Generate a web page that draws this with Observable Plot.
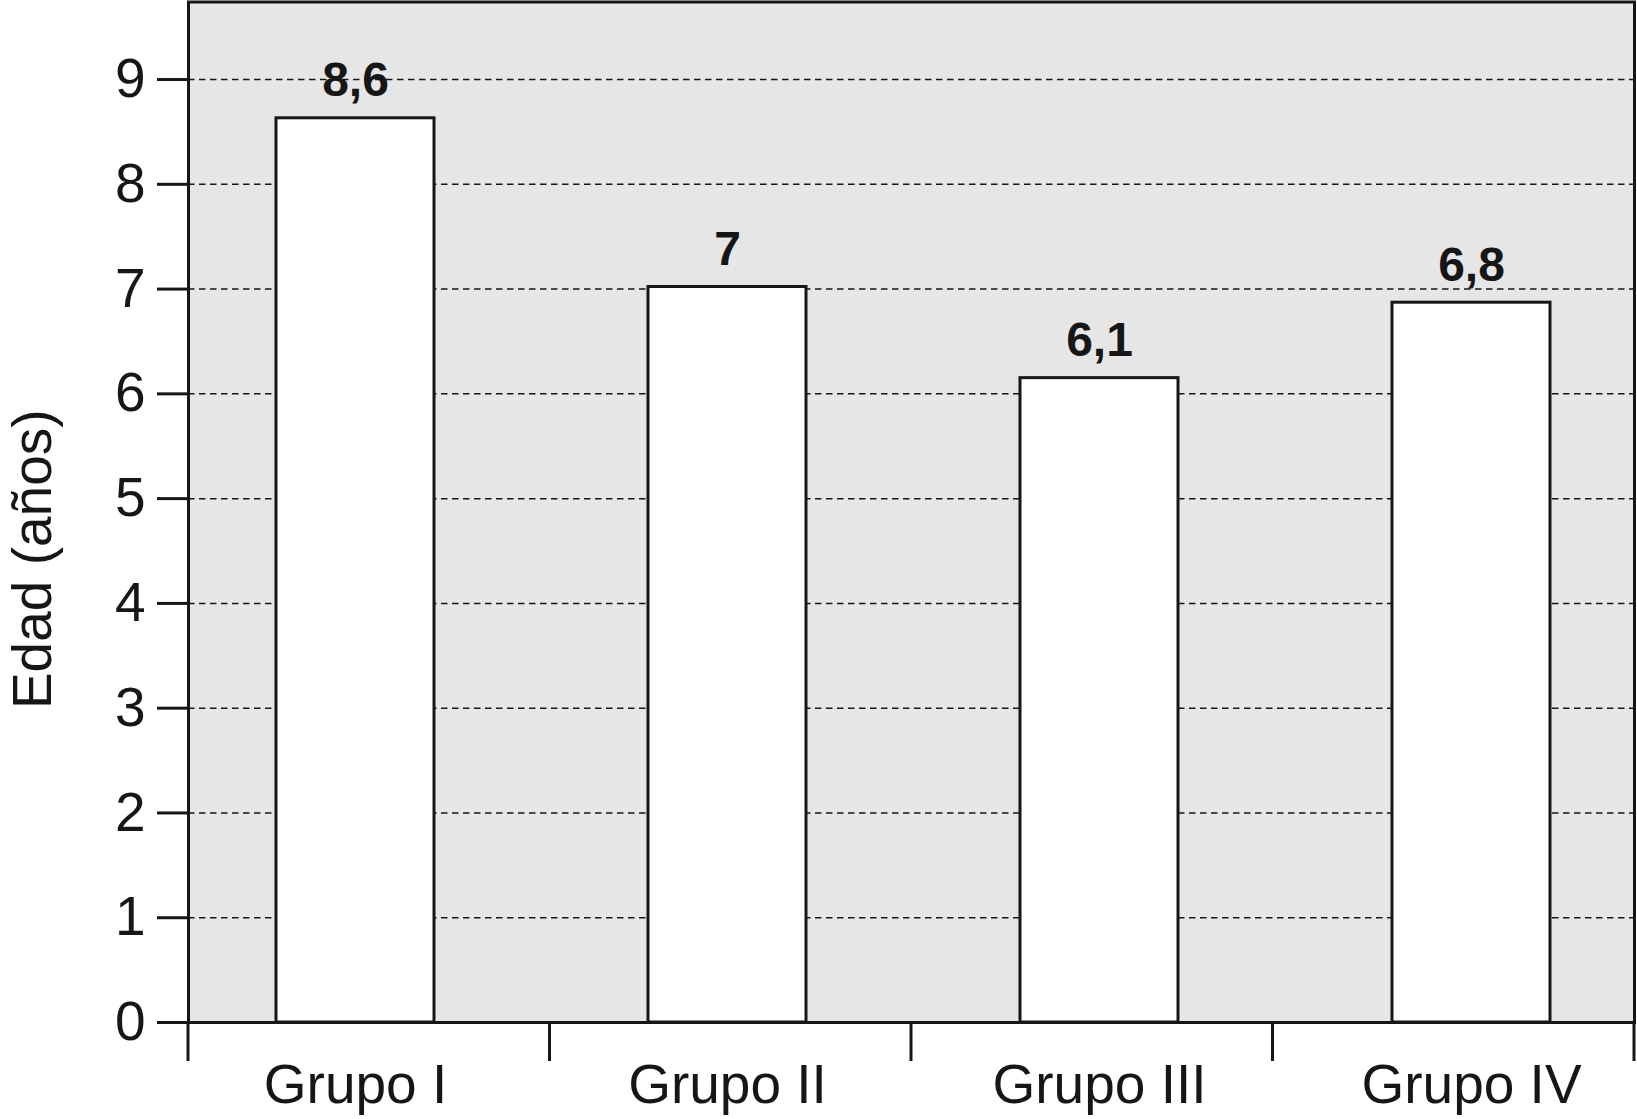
<!DOCTYPE html>
<html>
<head>
<meta charset="utf-8">
<script src="https://cdn.jsdelivr.net/npm/d3@7"></script>
<script src="https://cdn.jsdelivr.net/npm/@observablehq/plot@0.6"></script>
<style>
  html, body { margin: 0; padding: 0; background: #ffffff; }
  #chart svg { display: block; }
</style>
</head>
<body>
<div id="chart"></div>
<script>
// ---- data ----
const groups = ["Grupo I", "Grupo II", "Grupo III", "Grupo IV"];
const values = [8.63, 7.02, 6.15, 6.87];          // bar heights as drawn
const valueLabels = ["8,6", "7", "6,1", "6,8"];    // printed labels
const yTicks = [0, 1, 2, 3, 4, 5, 6, 7, 8, 9];
const gridTicks = [1, 2, 3, 4, 5, 6, 7, 8, 9];
const yLabel = "Edad (años)";

const data = groups.map((g, i) => ({group: g, value: values[i], label: valueLabels[i]}));

const W = 1637, H = 1119;
const mL = 188, mR = 3, mT = 1.5, mB = 97;
const ink = "#161616";
const font = "Arial, 'Liberation Sans', Helvetica, sans-serif";

const chart = Plot.plot({
  width: W,
  height: H,
  marginLeft: mL,
  marginRight: mR,
  marginTop: mT,
  marginBottom: mB,
  style: {fontFamily: font, color: ink, background: "#ffffff"},
  x: {type: "band", domain: groups, range: [167.8, 1658.4], padding: 0, label: null},
  y: {domain: [0, 9.74], label: null},
  marks: [
    Plot.frame({fill: "#e6e6e6", stroke: null}),
    Plot.gridY(gridTicks, {stroke: ink, strokeOpacity: 1, strokeWidth: 1.5, strokeDasharray: "6.5,4.5"}),
    Plot.barY(data, {x: "group", y: "value", fill: "#ffffff", stroke: ink, strokeWidth: 3, insetLeft: 107, insetRight: 107}),
    Plot.text(data, {x: "group", y: "value", text: "label", lineAnchor: "bottom", dy: -22, fontSize: 48, fontWeight: "bold", fill: ink}),
    Plot.frame({stroke: ink, strokeWidth: 3}),
    Plot.axisY({ticks: yTicks, tickSize: 31, tickPadding: 12, fontSize: 55, strokeWidth: 3, stroke: ink, label: null}),
    Plot.axisX({tickSize: 0, tickPadding: 41, fontSize: 55, label: null}),
    Plot.text([yLabel], {frameAnchor: "left", rotate: -90, dx: -155, dy: 47, fontSize: 55, fill: ink, textAnchor: "middle"})
  ]
});

// boundary tick marks below the frame (split the frame evenly into the four groups)
const svg = d3.select(chart);
const step = (W - mL - mR) / groups.length;
svg.append("g")
  .attr("stroke", ink)
  .attr("stroke-width", 3)
  .selectAll("line")
  .data(d3.range(groups.length + 1))
  .join("line")
  .attr("x1", k => mL + k * step)
  .attr("x2", k => mL + k * step)
  .attr("y1", H - mB)
  .attr("y2", H - mB + 39);

document.getElementById("chart").appendChild(chart);
</script>
</body>
</html>
